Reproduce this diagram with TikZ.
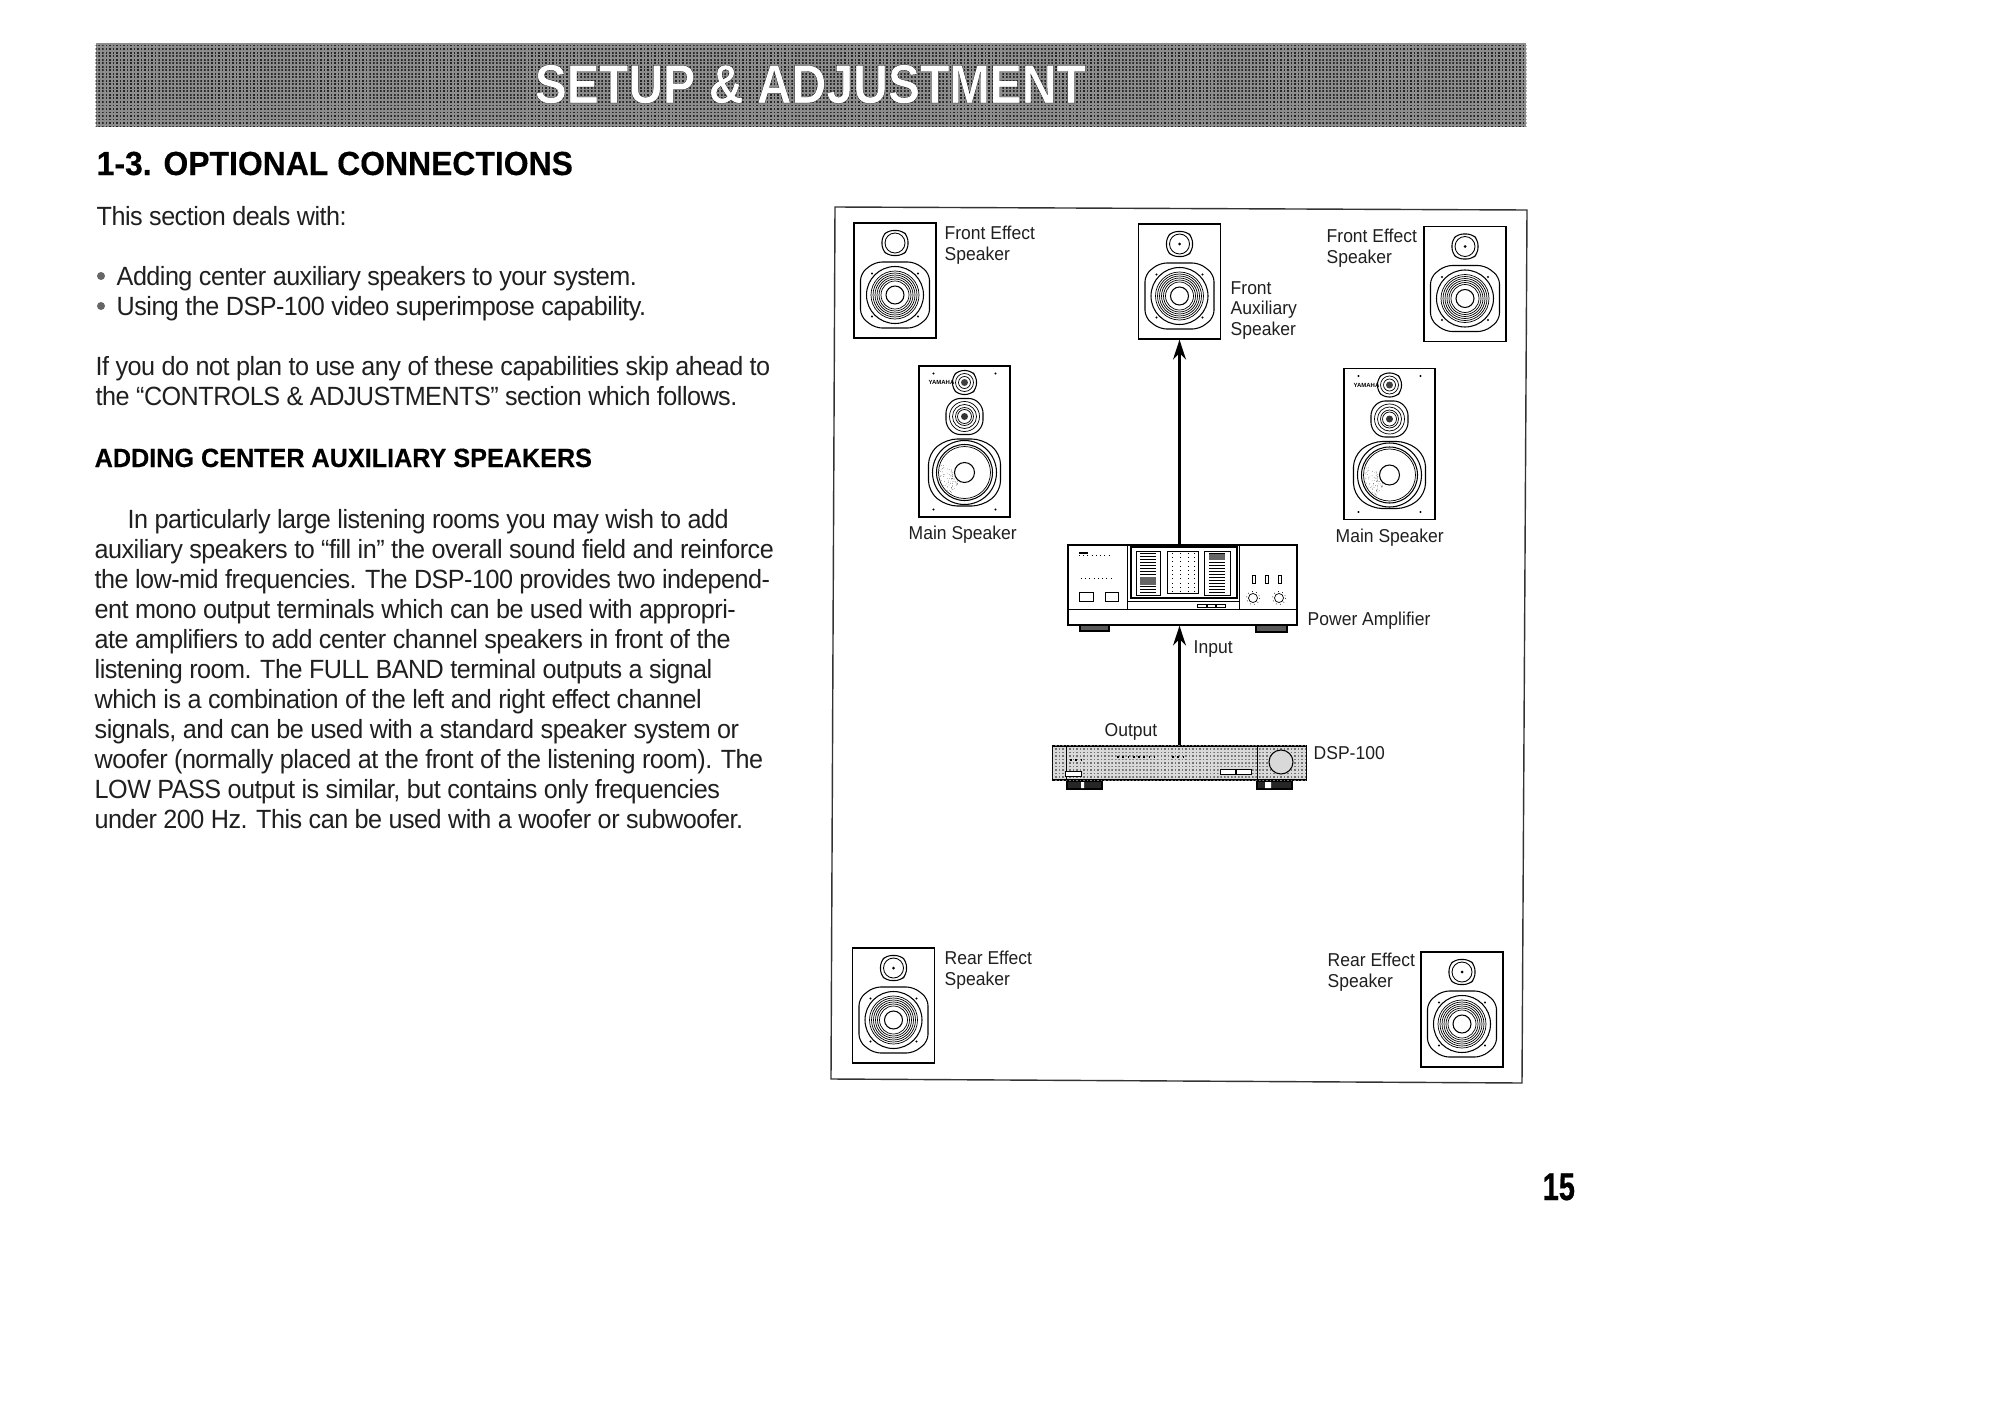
\documentclass[tikz,border=0pt]{standalone}
\usepackage{fontspec}
\usetikzlibrary{arrows.meta,patterns}
\setmainfont{Liberation Sans}
\newfontfamily\bodyfamily[FakeStretch=0.955,LetterSpace=-2]{Liberation Sans}
\newfontfamily\labelfamily[FakeStretch=0.94]{Liberation Sans}
\newfontfamily\headfamily[FakeStretch=0.955,FakeBold=0.3]{Liberation Sans Bold}
\newfontfamily\pagefamily[FakeStretch=0.75,FakeBold=0.6]{Liberation Sans Bold}
\newfontfamily\titlefamily[FakeStretch=0.878,FakeBold=0.4]{Liberation Sans Bold}

\pgfdeclarepatternformonly{scandots}{\pgfqpoint{0pt}{0pt}}{\pgfqpoint{.5pt}{.5pt}}{\pgfqpoint{1pt}{1pt}}{%
  \pgfpathrectangle{\pgfqpoint{0pt}{0pt}}{\pgfqpoint{.5pt}{.5pt}}\pgfusepath{fill}}

\tikzset{
  bodytext/.style={anchor=north west, inner sep=0pt, align=left, text=black!88,
    font=\bodyfamily\fontsize{7.5}{8.53}\selectfont},
  headtext/.style={anchor=base west, inner sep=0pt, font=\headfamily\fontsize{9.5}{11}\selectfont},
  subhead/.style={anchor=base west, inner sep=0pt, font=\headfamily\fontsize{7.5}{9}\selectfont},
  lbl/.style={anchor=base west, inner sep=0pt, text=black!88, font=\labelfamily\fontsize{5.3}{5.95}\selectfont},
  lblblock/.style={anchor=north west, inner sep=0pt, align=left, text=black!88, font=\labelfamily\fontsize{5.3}{5.95}\selectfont},
  smallbox/.style={draw, line width=.35pt, minimum width=.82cm, minimum height=1.15cm, inner sep=0pt},
  mainbox/.style={draw, line width=.35pt, minimum width=.91cm, minimum height=1.51cm, inner sep=0pt},
  sigline/.style={line width=.6pt, -{Stealth[length=.2cm,width=.13cm]}},
  thin line/.style={line width=.2pt},
  foot/.style={draw, line width=.3pt, fill=black!65},
}

% box, tweeter and woofer of the small speakers
\newcommand{\effectspeaker}[4]{%
  \begin{scope}[shift={(#2,#3)}]
    \node[smallbox] (#1) at (0,0) {};
    \draw[line width=.3pt, rounded corners=1.5pt] (-7,-50) -- (7,-50) -- (13,-44) -- (13,-31) -- (7,-25)
      -- (-7,-25) -- (-13,-31) -- (-13,-44) -- cycle;
    \draw[line width=.25pt] (0,-37.5) circle (10);
    \fill[#4] (0,-37.5) circle (1.5);
    \draw[line width=.3pt, rounded corners=2pt] (-20,-18.5) -- (20,-18.5) -- (34.5,-7) -- (34.5,36) -- (20,47.5)
      -- (-20,47.5) -- (-34.5,36) -- (-34.5,-7) -- cycle;
    \draw[line width=.3pt] (0,14.5) circle (28.5);
    \foreach \r in {14,16,...,24} \draw[thin line] (0,14.5) circle (\r);
    \draw[line width=.3pt] (0,14.5) circle (9);
    \foreach \sx/\sy in {-23/-7,23/-7,-23/36,23/36} \fill (\sx,\sy) circle (1.1);
  \end{scope}%
}
% box and three drivers of the main speakers
\newcommand{\mainspeaker}[3]{%
  \begin{scope}[shift={(#2,#3)}]
    \node[mainbox] (#1) at (0,0) {};
    \foreach \sx/\sy in {-31/-68,31/-68,-31/68,31/68} \fill (\sx,\sy) circle (1.2);
    \node[inner sep=0pt, font=\bfseries\fontsize{1.7}{2}\selectfont] (#1logo) at (-23,-59) {YAMAHA};
    \draw[line width=.3pt, rounded corners=1.5pt] (-6,-71) -- (6,-71) -- (12,-65) -- (12,-53) -- (6,-47)
      -- (-6,-47) -- (-12,-53) -- (-12,-65) -- cycle;
    \foreach \r in {9,6} \draw[thin line] (0,-59) circle (\r);
    \fill[black!75] (0,-59) circle (3.5);
    \draw[line width=.3pt, rounded corners=1.5pt] (-10,-43) -- (10,-43) -- (18.5,-34) -- (18.5,-16) -- (10,-7)
      -- (-10,-7) -- (-18.5,-16) -- (-18.5,-34) -- cycle;
    \foreach \r in {15,12,9,7} \draw[thin line] (0,-25) circle (\r);
    \fill[black!80] (0,-25) circle (3.5);
    \draw[line width=.3pt, rounded corners=3pt] (-18,-2.5) -- (18,-2.5) -- (36,12) -- (36,50) -- (18,64.5)
      -- (-18,64.5) -- (-36,50) -- (-36,12) -- cycle;
    \draw[line width=.3pt] (0,31) circle (32);
    \draw[line width=.3pt] (0,31) circle (28);
    \draw[thin line] (0,31) circle (26);
    \draw[line width=.3pt] (0,31) circle (10);
    \pgfmathsetseed{7}
    \foreach \i in {1,...,70} {
      \pgfmathsetmacro{\ang}{120+rnd*80}
      \pgfmathsetmacro{\rad}{11+rnd*14}
      \fill[black!70] (0,31) ++(\ang:\rad) circle (.35);
    }
  \end{scope}%
}

\begin{document}
\begin{tikzpicture}[x=0.01cm, y=-0.01cm]
  \useasboundingbox (0,0) rectangle (2002,1418);

  % Banner
  \node[minimum width=14.3cm, minimum height=.83cm, inner sep=0pt, fill=black!45,
    postaction={pattern=scandots, pattern color=black!85}] (banner) at (811,85) {};
  \node[anchor=base west, inner sep=0pt, font=\titlefamily\fontsize{15.6}{18}\selectfont] (title) at (534,103)
    {\color{white}\special{pdf:code 0 G}SETUP \& ADJUSTMENT};

  % Left column of text
  \node[headtext] (head) at (96,175) {1-3. OPTIONAL CONNECTIONS};
  \node[bodytext] (intro) at (96,206) {This section deals with:};
  \fill[black!60] (101,276) circle (4);
  \fill[black!60] (101,306) circle (4);
  \node[bodytext] (bullets) at (116,266) {Adding center auxiliary speakers to your system.\\
    Using the DSP-100 video superimpose capability.};
  \node[bodytext] (skip) at (95,356) {If you do not plan to use any of these capabilities skip ahead to\\
    the “CONTROLS \& ADJUSTMENTS” section which follows.};
  \node[subhead] (subhead) at (94,467) {ADDING CENTER AUXILIARY SPEAKERS};
  \node[bodytext] (para) at (94,509) {\hspace{.33cm}In particularly large listening rooms you may wish to add\\
    auxiliary speakers to “fill in” the overall sound field and reinforce\\
    the low-mid frequencies. The DSP-100 provides two independ-\\
    ent mono output terminals which can be used with appropri-\\
    ate amplifiers to add center channel speakers in front of the\\
    listening room. The FULL BAND terminal outputs a signal\\
    which is a combination of the left and right effect channel\\
    signals, and can be used with a standard speaker system or\\
    woofer (normally placed at the front of the listening room). The\\
    LOW PASS output is similar, but contains only frequencies\\
    under 200 Hz. This can be used with a woofer or subwoofer.};
  \node[anchor=base west, inner sep=0pt, font=\pagefamily\fontsize{11}{12}\selectfont] (pageno) at (1542,1200) {15};

  % Frame of the diagram
  \draw[line width=.4pt, black!80] (835,207) -- (1527,210) -- (1522,1083) -- (831,1079) -- cycle;

  % Speakers
  \effectspeaker{frontL}{895}{280.5}{white}
  \effectspeaker{aux}{1179.5}{281.5}{black}
  \effectspeaker{frontR}{1465}{284}{black}
  \effectspeaker{rearL}{893.5}{1005.5}{black}
  \effectspeaker{rearR}{1462}{1009.5}{black}
  \mainspeaker{mainL}{964.5}{441.5}
  \mainspeaker{mainR}{1389.5}{444}

  % Power amplifier
  \draw[foot] (1080,625) rectangle (1109,631);
  \draw[foot] (1256,625) rectangle (1287,632);
  \node[draw, line width=.35pt, fill=white, minimum width=2.29cm, minimum height=.8cm, inner sep=0pt] (amp) at (1182.5,585) {};
  \draw[thin line] (1068,609) -- (1297,609);
  \draw[thin line] (1127,545) -- (1127,609) (1239,545) -- (1239,609);
  \draw[line width=.3pt] (1131,547) rectangle (1237,598);
  \draw[thin line] (1136,551) rectangle (1160,595) (1167,551) rectangle (1198,593) (1204,551) rectangle (1230,595);
  \foreach \my in {553,556,...,592} {
    \draw[thin line] (1140,\my) -- (1156,\my);
    \draw[thin line] (1209,\my) -- (1225,\my);
  }
  \fill[black!60] (1140,577) rectangle (1156,585);
  \fill[black!60] (1209,554) rectangle (1225,560);
  \foreach \gx in {1172,1180,1188,1194} \draw[thin line, densely dotted] (\gx,553) -- (\gx,591);
  \draw[thin line] (1127,601) -- (1239,601);
  \draw[thin line] (1197,604) rectangle (1206,607) (1207,604) rectangle (1215,607) (1216,604) rectangle (1225,607);
  \draw[thin line] (1079,592) rectangle (1093,601) (1105,592) rectangle (1118,601);
  \draw[line width=.6pt] (1079,553) -- (1088,553);
  \draw[thin line, densely dotted] (1079,555) -- (1112,555) (1081,578) -- (1112,578);
  \draw[thin line] (1252,575) rectangle (1255,583) (1265,575) rectangle (1268,583) (1278,575) rectangle (1281,583);
  \foreach \kx in {1253,1279} {
    \draw[thin line] (\kx,598) circle (4.5);
    \draw[thin line, densely dotted] (\kx,598) circle (6.5);
  }

  % DSP-100
  \draw[foot, fill=black!85] (1067,781) rectangle (1102,789);
  \draw[foot, fill=black!85] (1257,781) rectangle (1292,789);
  \fill[white] (1081,782) rectangle (1084,788) (1265,782) rectangle (1271,788);
  \node[draw, line width=.3pt, fill=black!15, minimum width=2.53cm, minimum height=.34cm, inner sep=0pt,
    postaction={pattern=scandots, pattern color=black!55}] (dsp) at (1179.5,763) {};
  \draw[thin line] (1066,747) -- (1066,779) (1257,746) -- (1257,780);
  \draw[thin line, fill=white] (1065,771) rectangle (1081,776) (1220,769) rectangle (1235,774) (1236,769) rectangle (1251,774);
  \draw[line width=.5pt, densely dotted] (1117,757) -- (1155,757) (1172,757) -- (1185,757) (1070,760) -- (1082,760);
  \draw[line width=.3pt, fill=black!15] (1281,762) circle (12);

  % Connections
  \draw[sigline] (amp.north -| aux.south) -- (aux.south);
  \draw[sigline] (dsp.north) -- (amp.south -| dsp.north);

  % Labels
  \node[lblblock] (frontLtxt) at (944,225.5) {Front Effect\\Speaker};
  \node[lblblock] (auxtxt) at (1230,280.5) {Front\\Auxiliary\\Speaker};
  \node[lblblock] (frontRtxt) at (1326,228.5) {Front Effect\\Speaker};
  \node[lblblock] (rearLtxt) at (944,950.5) {Rear Effect\\Speaker};
  \node[lblblock] (rearRtxt) at (1327,952.5) {Rear Effect\\Speaker};
  \node[lbl] (mainLtxt) at (908,539) {Main Speaker};
  \node[lbl] (mainRtxt) at (1335,542) {Main Speaker};
  \node[lbl] (amptxt) at (1307,625) {Power Amplifier};
  \node[lbl] (inputtxt) at (1193,653) {Input};
  \node[lbl] (outputtxt) at (1104,736) {Output};
  \node[lbl] (dsptxt) at (1313,759) {DSP-100};
\end{tikzpicture}
\end{document}
